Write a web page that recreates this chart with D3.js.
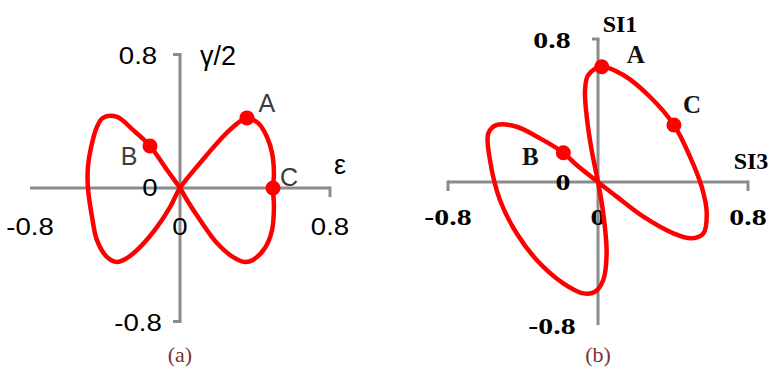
<!DOCTYPE html>
<html lang="en">
<head>
    <meta charset="utf-8">
    <title>Strain paths</title>
    <script src="https://d3js.org/d3.v7.min.js"></script>
    <style>
        body {
            margin: 0;
            background: #ffffff;
        }
        .axis-line {
            stroke: #8c8c8c;
            stroke-width: 3px;
            fill: none;
        }
        .path-line {
            stroke: #ff0000;
            stroke-width: 4.5px;
            fill: none;
        }
        .caption {
            font-family: "Liberation Serif", serif;
            font-size: 22px;
            fill: #7a3434;
        }
    </style>
</head>
<body>
    <svg id="chart" width="779" height="368"></svg>

    <script>
        // ---- data ----
        const axisTicks = [-0.8, 0, 0.8];
        const tickLabels = ["-0.8", "0", "0.8"];

        // (a) normal strain vs half shear strain
        const pathA = [
            [0, 0], [0.107, 0.150], [0.213, 0.288], [0.283, 0.366], [0.357, 0.420],
            [0.416, 0.390], [0.464, 0.306], [0.491, 0.210], [0.501, 0.090], [0.496, 0],
            [0.501, -0.114], [0.491, -0.252], [0.453, -0.360], [0.389, -0.431], [0.347, -0.443],
            [0.283, -0.414], [0.197, -0.330], [0.107, -0.192], [0.037, -0.072],
            [0, 0], [-0.069, 0.108], [-0.160, 0.252], [-0.251, 0.348], [-0.336, 0.426],
            [-0.411, 0.420], [-0.443, 0.366], [-0.469, 0.270], [-0.491, 0.126], [-0.491, 0],
            [-0.469, -0.174], [-0.443, -0.312], [-0.389, -0.414], [-0.336, -0.443], [-0.283, -0.420],
            [-0.213, -0.354], [-0.123, -0.234], [-0.053, -0.114]
        ];
        const pointsA = [["A", 0.357, 0.420], ["B", -0.160, 0.252], ["C", 0.496, 0]];

        // (b) SI3 vs SI1
        const pathB = [
            [0, 0], [-0.034, 0.179], [-0.060, 0.365], [-0.069, 0.515], [-0.052, 0.599],
            [0.020, 0.645], [0.135, 0.599], [0.277, 0.477], [0.405, 0.319], [0.491, 0.141],
            [0.553, -0.026], [0.580, -0.175], [0.562, -0.287], [0.500, -0.315], [0.402, -0.287],
            [0.242, -0.194], [0.100, -0.082],
            [0, 0], [-0.114, 0.095], [-0.185, 0.164], [-0.309, 0.244], [-0.434, 0.309],
            [-0.540, 0.319], [-0.585, 0.272], [-0.576, 0.123], [-0.523, -0.101], [-0.434, -0.287],
            [-0.327, -0.436], [-0.185, -0.567], [-0.078, -0.623], [-0.016, -0.614], [0.028, -0.548],
            [0.046, -0.399], [0.028, -0.175]
        ];
        const pointsB = [["A", 0.020, 0.645], ["B", -0.185, 0.164], ["C", 0.405, 0.319]];

        const svg = d3.select("#chart");

        // draws one panel; layout holds everything about placement and look
        function drawPanel(path, points, layout) {
            const x = d3.scaleLinear().domain([-0.8, 0.8]).range(layout.xRange);
            const y = d3.scaleLinear().domain([-0.8, 0.8]).range(layout.yRange);
            const g = svg.append("g");
            const x0 = x(0), y0 = y(0);
            const font = layout.font;

            // axes through the origin
            g.append("line").attr("class", "axis-line")
                .attr("x1", x(-0.8)).attr("x2", x(0.8)).attr("y1", y0).attr("y2", y0);
            g.append("line").attr("class", "axis-line")
                .attr("x1", x0).attr("x2", x0).attr("y1", y(0.8)).attr("y2", y(-0.8));

            // small end ticks
            layout.endTicks.forEach(t => {
                if (t.axis === "y") {
                    g.append("line").attr("class", "axis-line")
                        .attr("x1", x0 + 1.5).attr("x2", x0 - t.len)
                        .attr("y1", y(t.v)).attr("y2", y(t.v));
                } else {
                    g.append("line").attr("class", "axis-line")
                        .attr("x1", x(t.v)).attr("x2", x(t.v))
                        .attr("y1", y0 - 1.5).attr("y2", y0 + t.len);
                }
            });

            function label(txt, px, py, size, fill, sx, weight) {
                g.append("text")
                    .attr("transform", `translate(${px},${py}) scale(${sx},1)`)
                    .attr("text-anchor", "middle")
                    .attr("dominant-baseline", "central")
                    .style("font-family", font)
                    .style("font-size", size + "px")
                    .style("font-weight", weight || layout.weight)
                    .style("fill", fill)
                    .text(txt);
            }

            // tick labels: x below the axis, y to the left
            axisTicks.forEach((v, i) => {
                if (v !== 0) {
                    label(tickLabels[i], x(v), y0 + layout.xLabelDy, layout.tickSize, "#000", layout.tickSx);
                    label(tickLabels[i], x0 + layout.yLabelDx, y(v) + 1, layout.tickSize, "#000", layout.tickSx);
                }
            });
            label("0", x0, y0 + layout.xLabelDy, layout.tickSize, "#000", layout.tickSx);
            label("0", x0 + layout.zeroDx, y0, layout.tickSize, "#000", layout.tickSx);

            // axis titles
            label(layout.yTitle, layout.yTitlePos[0], layout.yTitlePos[1], layout.titleSize, "#000", 1);
            label(layout.xTitle, layout.xTitlePos[0], layout.xTitlePos[1], layout.titleSize, "#000", 1);

            // the loop itself
            const line = d3.line()
                .x(d => x(d[0]))
                .y(d => y(d[1]))
                .curve(d3.curveCatmullRomClosed.alpha(0.5));
            g.append("path").attr("class", "path-line").attr("d", line(path));

            // marked states
            points.forEach(p => {
                g.append("circle")
                    .attr("cx", x(p[1])).attr("cy", y(p[2])).attr("r", 7.5)
                    .attr("fill", "#ff0000");
                const off = layout.pointOffsets[p[0]];
                label(p[0], x(p[1]) + off[0], y(p[2]) + off[1], layout.pointSize, layout.pointFill, 1);
            });

            svg.append("text").attr("class", "caption")
                .attr("x", x0).attr("y", 354)
                .attr("text-anchor", "middle")
                .attr("dominant-baseline", "central")
                .text(layout.caption);
        }

        drawPanel(pathA, pointsA, {
            xRange: [30, 330], yRange: [321.5, 54.5],
            font: "Arial, 'Liberation Sans', sans-serif", weight: "normal",
            tickSize: 23, tickSx: 1.2, titleSize: 27,
            xLabelDy: 39, yLabelDx: -42, zeroDx: -30,
            endTicks: [{ axis: "y", v: 0.8, len: 7 }, { axis: "y", v: -0.8, len: 7 }, { axis: "x", v: 0.8, len: 9 }],
            yTitle: "γ/2", yTitlePos: [218, 56],
            xTitle: "ε", xTitlePos: [340, 165],
            pointSize: 25, pointFill: "#3c3c3c",
            pointOffsets: { A: [20, -15], B: [-21, 10], C: [16, -11] },
            caption: "(a)"
        });

        drawPanel(pathB, pointsB, {
            xRange: [448, 748], yRange: [325, 39],
            font: "'Times New Roman', 'Liberation Serif', serif", weight: "bold",
            tickSize: 23, tickSx: 1.3, titleSize: 24,
            xLabelDy: 35, yLabelDx: -46, zeroDx: -35,
            endTicks: [{ axis: "y", v: 0.8, len: 6 }, { axis: "x", v: -0.8, len: 9 }, { axis: "x", v: 0.8, len: 9 }],
            yTitle: "SI1", yTitlePos: [620, 24],
            xTitle: "SI3", xTitlePos: [751, 161],
            pointSize: 25, pointFill: "#111",
            pointOffsets: { A: [34, -12], B: [-33, 4], C: [18, -20] },
            caption: "(b)"
        });
    </script>
</body>
</html>
